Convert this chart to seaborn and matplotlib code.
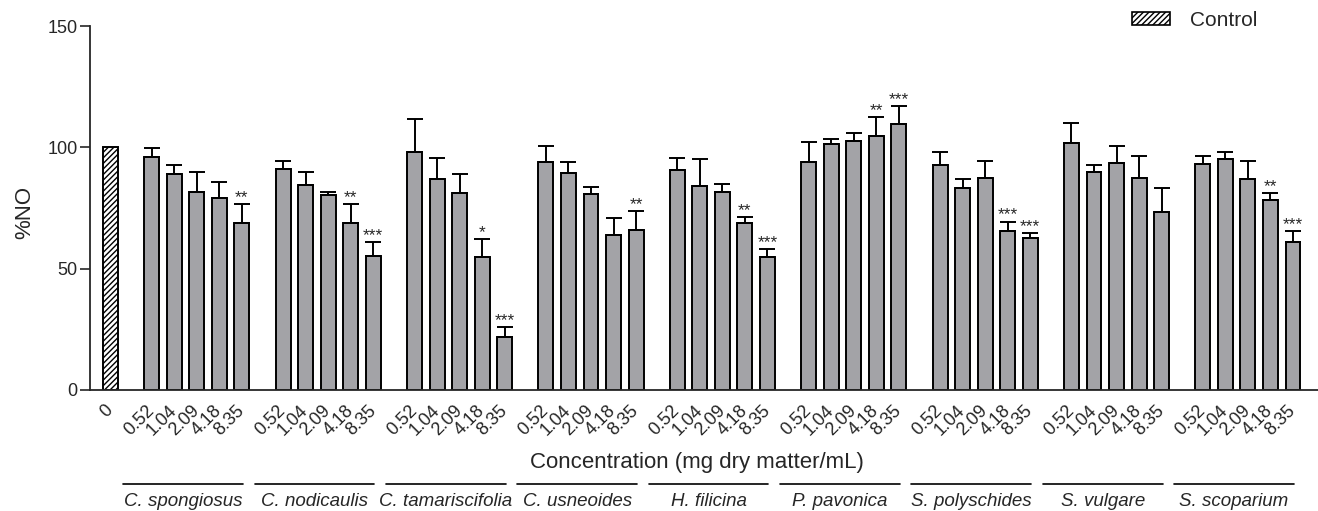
import matplotlib
matplotlib.use('Agg')
import matplotlib.pyplot as plt
import matplotlib.transforms as mtransforms
from matplotlib.patches import Patch
import numpy as np
import pandas as pd
import seaborn as sns

# Data
species = ['C. spongiosus', 'C. nodicaulis', 'C. tamariscifolia', 'C. usneoides',
           'H. filicina', 'P. pavonica', 'S. polyschides', 'S. vulgare', 'S. scoparium']
concentrations = ['0.52', '1.04', '2.09', '4.18', '8.35']
control_value = 100.0

no_mean = [
    [96.1, 89.0, 81.7, 79.1, 68.9],
    [91.1, 84.5, 80.2, 68.8, 55.2],
    [98.1, 86.8, 81.0, 54.7, 22.0],
    [94.0, 89.6, 80.8, 63.9, 65.9],
    [90.5, 84.2, 81.7, 68.8, 54.9],
    [93.8, 101.4, 102.7, 104.8, 109.5],
    [92.6, 83.2, 87.5, 65.7, 62.6],
    [101.6, 89.7, 93.5, 87.5, 73.4],
    [93.0, 95.3, 87.1, 78.4, 61.1],
]
no_sem = [
    [3.5, 3.6, 8.0, 6.7, 7.6],
    [3.4, 5.3, 1.2, 7.7, 5.6],
    [13.6, 8.9, 8.0, 7.4, 3.8],
    [6.4, 4.5, 3.0, 6.8, 7.7],
    [5.1, 11.0, 3.3, 2.4, 3.1],
    [8.3, 2.0, 3.3, 7.7, 7.4],
    [5.3, 3.7, 6.9, 3.7, 2.2],
    [8.4, 3.0, 7.0, 8.9, 10.0],
    [3.3, 2.8, 7.1, 2.8, 4.4],
]
stars = [
    ['', '', '', '', '**'],
    ['', '', '', '**', '***'],
    ['', '', '', '*', '***'],
    ['', '', '', '', '**'],
    ['', '', '', '**', '***'],
    ['', '', '', '**', '***'],
    ['', '', '', '***', '***'],
    ['', '', '', '', ''],
    ['', '', '', '**', '***'],
]

# Layout of the bar positions: control, then groups separated by a gap
gap = 0.83
rows = [{'pos': 0.0, 'value': control_value, 'sem': 0.0, 'label': '0', 'star': ''}]
group_start = []
for g, sp in enumerate(species):
    start = 1 + gap + g * (len(concentrations) + gap)
    group_start.append(start)
    for j, c in enumerate(concentrations):
        rows.append({'pos': start + j, 'value': no_mean[g][j], 'sem': no_sem[g][j],
                     'label': c, 'star': stars[g][j]})
df = pd.DataFrame(rows)

sns.set_style('ticks')
plt.rcParams['font.family'] = ['Liberation Sans', 'DejaVu Sans']
plt.rcParams['hatch.linewidth'] = 1.0

fig = plt.figure(figsize=(13.18, 5.11), dpi=100)
ax = fig.add_axes([0.0683, 0.2368, 0.9317, 0.7123])

bar_color = '#a3a3a7'
sns.barplot(data=df, x='pos', y='value', native_scale=True, width=0.66,
            color=bar_color, edgecolor='black', linewidth=1.4, errorbar=None,
            saturation=1, ax=ax)

# control bar: hatched, white
for p in ax.patches:
    if abs(p.get_x() + p.get_width() / 2) < 1e-6:
        p.set_facecolor('white')
        p.set_hatch('//////')

# upper error bars only
err = df[df['sem'] > 0]
ax.errorbar(err['pos'], err['value'], yerr=[np.zeros(len(err)), err['sem']],
            fmt='none', ecolor='black', elinewidth=1.4, capsize=5.5, capthick=1.4,
            zorder=1)

for _, r in df[df['star'] != ''].iterrows():
    ax.annotate(r['star'], (r['pos'], r['value'] + r['sem']), xytext=(0, 1.5),
                textcoords='offset points', ha='center', va='baseline', fontsize=12.5)

ax.set_ylim(0, 150)
ax.set_xlim(-0.91, df['pos'].max() + 1.11)
ax.set_yticks([0, 50, 100, 150])
ax.tick_params(axis='y', labelsize=13, length=7, width=1.2, pad=2)
ax.set_xticks(df['pos'])
ax.set_xticklabels(df['label'], rotation=45, ha='right', va='center',
                   rotation_mode='anchor', fontsize=13)
ax.tick_params(axis='x', length=0, pad=13)
sns.despine(ax=ax)
for s in ['left', 'bottom']:
    ax.spines[s].set_linewidth(1.3)

ax.set_ylabel('%NO', fontsize=16)
ax.yaxis.set_label_coords(-0.053, 0.489)
ax.yaxis.label.set_va('center')
ax.set_xlabel('Concentration (mg dry matter/mL)', fontsize=16)
ax.xaxis.set_label_coords(0.494, -0.214)
ax.xaxis.label.set_va('baseline')

# species group labels below the axis
trans = mtransforms.blended_transform_factory(ax.transData, ax.transAxes)
for sp, start in zip(species, group_start):
    x0 = start - 1.27
    x1 = start + len(concentrations) - 1 + 0.04
    ax.plot([x0, x1], [-0.258, -0.258], color='black', lw=1.2,
            transform=trans, clip_on=False)
    ax.text((x0 + x1) / 2, -0.32, sp, transform=trans, ha='center',
            va='baseline', fontsize=13.5, style='italic')

handle = Patch(facecolor='white', edgecolor='black', hatch='//////', linewidth=1.2)
fig.legend(handles=[handle], labels=['Control'], loc='center left',
           bbox_to_anchor=(1132 / 1318, 1 - 20.5 / 511), frameon=False,
           fontsize=15, handlelength=1.8, handleheight=0.62, handletextpad=1.0,
           borderpad=0, borderaxespad=0)

fig.savefig('out.png', dpi=100)
